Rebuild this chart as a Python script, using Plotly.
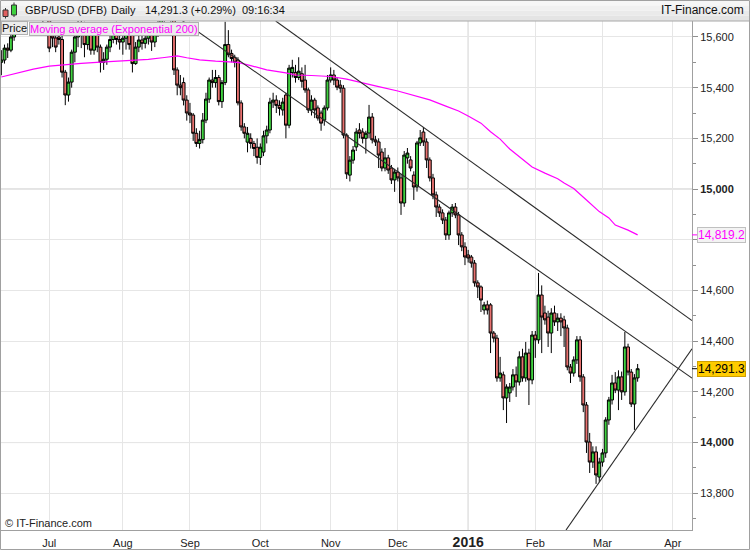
import pandas as pd
import plotly.graph_objects as go

# ---------------- data ----------------
# trading days shown (weekdays, market closed on 25 Dec and Good Friday)
TRADING_DAYS = pd.bdate_range("2015-06-10", "2016-04-08")
CLOSED_DAYS = pd.to_datetime(["2015-12-25", "2016-03-25"])
DATES = TRADING_DAYS[~TRADING_DAYS.isin(CLOSED_DAYS)]

OPEN = [
    15500, 15509, 15556, 15548, 15600, 15650, 15760, 15880, 15870, 15830,
    15720, 15760, 15740, 15750, 15740, 15700, 15610, 15596, 15600, 15590,
    15461, 15371, 15422, 15540, 15600, 15640, 15650, 15570, 15610, 15548,
    15620, 15560, 15500, 15512, 15560, 15590, 15620, 15590, 15580, 15595,
    15610, 15610, 15495, 15560, 15588, 15575, 15595, 15620, 15580, 15625,
    15655, 15680, 15700, 15710, 15700, 15470, 15410, 15420, 15351, 15300,
    15292, 15220, 15180, 15195, 15272, 15355, 15430, 15420, 15440, 15345,
    15420, 15570, 15535, 15520, 15509, 15340, 15245, 15185, 15200, 15180,
    15165, 15125, 15146, 15210, 15233, 15343, 15351, 15330, 15312, 15371,
    15252, 15460, 15460, 15440, 15455, 15430, 15391, 15312, 15351, 15320,
    15300, 15272, 15320, 15430, 15450, 15430, 15410, 15398, 15213, 15055,
    15114, 15166, 15233, 15225, 15200, 15221, 15284, 15194, 15186, 15146,
    15083, 15123, 15083, 15036, 15067, 15044, 14945, 15123, 15115, 15055,
    15008, 15182, 15225, 15186, 15115, 15044, 14977, 14929, 14906, 14878,
    14819, 14906, 14929, 14898, 14819, 14772, 14740, 14732, 14708, 14630,
    14614, 14523, 14543, 14543, 14432, 14412, 14255, 14267, 14176, 14196,
    14219, 14267, 14239, 14338, 14255, 14353, 14247, 14424, 14405, 14582,
    14511, 14495, 14432, 14511, 14476, 14491, 14484, 14452, 14298, 14274,
    14326, 14405, 14259, 14148, 14002, 13923, 13963, 13864, 13923, 13959,
    14089, 14168, 14235, 14207, 14259, 14200, 14377, 14278, 14152, 14255,
]
HIGH = [
    15548, 15570, 15575, 15620, 15680, 15790, 15930, 15900, 15890, 15840,
    15780, 15790, 15780, 15780, 15790, 15720, 15630, 15625, 15630, 15605,
    15470, 15440, 15550, 15620, 15670, 15690, 15660, 15640, 15630, 15640,
    15640, 15570, 15540, 15570, 15610, 15650, 15660, 15640, 15610, 15630,
    15620, 15640, 15580, 15610, 15610, 15615, 15640, 15640, 15640, 15680,
    15700, 15730, 15750, 15820, 15720, 15480, 15450, 15440, 15370, 15340,
    15300, 15240, 15230, 15300, 15380, 15440, 15470, 15470, 15450, 15430,
    15660, 15627, 15550, 15530, 15520, 15350, 15260, 15245, 15220, 15190,
    15200, 15180, 15230, 15250, 15360, 15380, 15370, 15350, 15360, 15380,
    15490, 15510, 15490, 15520, 15480, 15490, 15400, 15370, 15360, 15330,
    15310, 15330, 15450, 15480, 15470, 15440, 15430, 15410, 15220, 15130,
    15170, 15240, 15260, 15240, 15230, 15332, 15300, 15210, 15200, 15160,
    15162, 15135, 15095, 15080, 15085, 15060, 15150, 15162, 15130, 15070,
    15190, 15233, 15245, 15200, 15125, 15060, 14990, 14940, 14920, 14890,
    14915, 14941, 14945, 14910, 14830, 14790, 14760, 14740, 14720, 14640,
    14620, 14555, 14560, 14550, 14440, 14425, 14338, 14280, 14230, 14235,
    14290, 14300, 14360, 14370, 14397, 14370, 14440, 14440, 14669, 14620,
    14540, 14520, 14530, 14540, 14510, 14510, 14500, 14465, 14310, 14340,
    14420, 14420, 14270, 14160, 14038, 13985, 13985, 13940, 13975, 14100,
    14180, 14267, 14278, 14285, 14280, 14436, 14390, 14290, 14270, 14310,
]
LOW = [
    15449, 15495, 15517, 15540, 15585, 15640, 15740, 15830, 15800, 15690,
    15680, 15710, 15700, 15630, 15670, 15540, 15560, 15540, 15570, 15440,
    15331, 15345, 15400, 15500, 15560, 15556, 15520, 15550, 15530, 15530,
    15540, 15460, 15470, 15490, 15540, 15575, 15570, 15550, 15530, 15550,
    15550, 15460, 15490, 15540, 15550, 15555, 15570, 15545, 15560, 15600,
    15630, 15660, 15670, 15660, 15450, 15370, 15370, 15330, 15270, 15260,
    15190, 15166, 15160, 15180, 15260, 15340, 15400, 15400, 15330, 15320,
    15410, 15520, 15500, 15480, 15330, 15230, 15200, 15145, 15160, 15130,
    15100, 15095, 15130, 15180, 15220, 15320, 15300, 15290, 15290, 15200,
    15240, 15440, 15420, 15430, 15400, 15380, 15300, 15290, 15280, 15270,
    15230, 15250, 15310, 15420, 15410, 15390, 15380, 15200, 15040, 15030,
    15100, 15150, 15200, 15180, 15140, 15200, 15180, 15170, 15083, 15070,
    15070, 15060, 15020, 14989, 15030, 14898, 14930, 15100, 15070, 14957,
    14990, 15170, 15170, 15083, 15030, 14960, 14890, 14890, 14862, 14799,
    14800, 14890, 14885, 14779, 14755, 14700, 14710, 14690, 14615, 14570,
    14515, 14505, 14505, 14353, 14395, 14240, 14240, 14128, 14077, 14160,
    14205, 14180, 14225, 14240, 14240, 14148, 14230, 14334, 14390, 14353,
    14465, 14377, 14353, 14460, 14440, 14420, 14377, 14285, 14235, 14260,
    14310, 14240, 14120, 13959, 13880, 13900, 13837, 13845, 13905, 13940,
    14070, 14150, 14195, 14128, 14168, 14185, 14265, 14140, 14050, 14240,
]
CLOSE = [
    15509, 15556, 15548, 15600, 15650, 15760, 15880, 15870, 15830, 15720,
    15760, 15740, 15750, 15740, 15700, 15556, 15596, 15560, 15590, 15461,
    15371, 15422, 15540, 15600, 15640, 15650, 15570, 15610, 15548, 15620,
    15560, 15500, 15512, 15560, 15590, 15620, 15590, 15580, 15595, 15610,
    15570, 15495, 15560, 15588, 15575, 15595, 15620, 15580, 15625, 15655,
    15680, 15700, 15710, 15700, 15470, 15410, 15400, 15351, 15300, 15292,
    15220, 15180, 15195, 15272, 15355, 15430, 15420, 15440, 15345, 15420,
    15570, 15530, 15515, 15500, 15340, 15245, 15220, 15220, 15180, 15160,
    15125, 15165, 15210, 15233, 15343, 15351, 15330, 15318, 15343, 15252,
    15477, 15480, 15440, 15465, 15425, 15391, 15312, 15351, 15312, 15280,
    15260, 15320, 15430, 15450, 15430, 15402, 15398, 15213, 15060, 15114,
    15154, 15225, 15220, 15200, 15220, 15284, 15194, 15186, 15134, 15083,
    15123, 15075, 15036, 15067, 15044, 14945, 15134, 15142, 15083, 15008,
    15182, 15202, 15186, 15115, 15044, 14977, 14929, 14906, 14878, 14819,
    14906, 14929, 14898, 14819, 14772, 14732, 14728, 14708, 14630, 14614,
    14562, 14543, 14523, 14432, 14412, 14255, 14274, 14176, 14219, 14219,
    14267, 14239, 14338, 14255, 14353, 14247, 14424, 14405, 14582, 14495,
    14484, 14432, 14511, 14476, 14491, 14476, 14452, 14298, 14274, 14326,
    14405, 14259, 14148, 14002, 13923, 13963, 13872, 13923, 13959, 14089,
    14168, 14235, 14207, 14259, 14200, 14377, 14278, 14152, 14255, 14291.3,
]

# 200-day exponential moving average, read at sampled trading-day positions
EMA_DAY = [0, 5, 10, 15, 20, 25, 31, 36, 41, 46, 51, 55, 58, 62, 67, 71, 74, 78,
           83, 89, 92, 97, 103, 108, 113, 118, 124, 129, 134, 139, 143, 146, 150,
           153, 156, 159, 162, 166, 170, 174, 176, 179, 183, 187, 190, 192, 196, 199]
EMA_VAL = [15442, 15458, 15473, 15485, 15491, 15496, 15501, 15505, 15508, 15512,
           15519, 15525, 15518, 15510, 15505, 15501, 15500, 15487, 15470, 15458,
           15450, 15448, 15444, 15434, 15418, 15404, 15387, 15369, 15352, 15327,
           15308, 15288, 15260, 15226, 15197, 15158, 15126, 15087, 15063, 15041,
           15024, 15002, 14957, 14911, 14886, 14858, 14838, 14819.2]

# hand-drawn trend lines: (day0, price0, day1, price1)
TREND_LINES = [
    (85.8, 15663, 216.0, 14481),
    (56.3, 15667, 216.0, 14254),
    (176.6, 13655, 216.0, 14370),
]

Y_TICKS = [13800, 14000, 14200, 14400, 14600, 14800, 15000, 15200, 15400, 15600]
Y_MINOR = [13700, 13900, 14100, 14300, 14500, 14700, 14900, 15100, 15300, 15500]
BOLD_TICKS = [14000, 15000]
HIDDEN_TICKS = [14800]   # covered by the moving-average value label

LAST_PRICE = 14291.3
LAST_EMA = 14819.2
TITLE_PARTS = ["GBP/USD (DFB)", "Daily", "14,291.3 (+0.29%)", "09:16:34"]

# ---------------- figure ----------------
W, H = 750, 550
ML, MR, MT, MB = 1, 58, 21, 20
PW, PH = W - ML - MR, H - MT - MB


def PX(px):
    return (px - ML) / PW


def PY(py):
    return (H - MB - py) / PH


FONT = "Liberation Sans, Arial, sans-serif"
xpos = list(range(len(CLOSE)))

fig = go.Figure()
fig.add_trace(go.Candlestick(
    x=xpos, open=OPEN, high=HIGH, low=LOW, close=CLOSE,
    increasing=dict(line=dict(color="#000000", width=1), fillcolor="#3fd23f"),
    decreasing=dict(line=dict(color="#000000", width=1), fillcolor="#e8716f"),
    whiskerwidth=0, showlegend=False, hoverinfo="skip",
))
fig.add_trace(go.Scatter(
    x=EMA_DAY, y=EMA_VAL, mode="lines",
    line=dict(color="#ff00ff", width=1.2), showlegend=False, hoverinfo="skip",
))
for (x0, y0, x1, y1) in TREND_LINES:
    fig.add_trace(go.Scatter(
        x=[x0, x1], y=[y0, y1], mode="lines",
        line=dict(color="#2a2a2a", width=1.1), showlegend=False, hoverinfo="skip",
    ))

# month ticks
tickvals, ticktext = [], []
for p in range(1, len(DATES)):
    if DATES[p].month != DATES[p - 1].month:
        tickvals.append(p)
        if DATES[p].month == 1:
            ticktext.append("<span style='font-size:14px'><b>%d</b></span>" % DATES[p].year)
        else:
            ticktext.append(DATES[p].strftime("%b"))
year_pos = [v for v, t in zip(tickvals, ticktext) if "<b>" in t]

ytext = []
for v in Y_TICKS:
    s = "{:,}".format(v)
    if v in HIDDEN_TICKS:
        s = ""
    elif v in BOLD_TICKS:
        s = "<b>%s</b>" % s
    ytext.append(s)

shapes = []
# header band (light gradient)
band = ["#e4e4e4", "#eaeaea", "#f0f0f0", "#f6f6f6"]
for k, col in enumerate(band):
    shapes.append(dict(type="rect", xref="paper", yref="paper",
                       x0=PX(0), x1=PX(750), y0=PY(21 - k * 5.25), y1=PY(21 - (k + 1) * 5.25),
                       fillcolor=col, line=dict(width=0), layer="below"))
shapes.append(dict(type="line", xref="paper", yref="paper", x0=PX(0), x1=PX(750),
                   y0=PY(21), y1=PY(21), line=dict(color="#a8a8a8", width=1)))
# outer border
shapes.append(dict(type="rect", xref="paper", yref="paper", x0=PX(0.5), x1=PX(749.5),
                   y0=PY(549.5), y1=PY(0.5), line=dict(color="#a0a0a0", width=1)))
# darker major grid lines
for v in BOLD_TICKS:
    shapes.append(dict(type="line", xref="paper", yref="y", x0=0, x1=1, y0=v, y1=v,
                       line=dict(color="#c4c4c4", width=1), layer="below"))
for v in year_pos:
    shapes.append(dict(type="line", xref="x", yref="paper", x0=v, x1=v, y0=0, y1=1,
                       line=dict(color="#c4c4c4", width=1), layer="below"))
# header icon: red and green candles
shapes += [
    dict(type="line", xref="paper", yref="paper", x0=PX(5.5), x1=PX(5.5), y0=PY(18.5), y1=PY(8),
         line=dict(color="#333", width=1)),
    dict(type="rect", xref="paper", yref="paper", x0=PX(3), x1=PX(8), y0=PY(16.5), y1=PY(10),
         fillcolor="#e06060", line=dict(color="#333", width=1)),
    dict(type="line", xref="paper", yref="paper", x0=PX(14), x1=PX(14), y0=PY(17), y1=PY(2.5),
         line=dict(color="#333", width=1)),
    dict(type="rect", xref="paper", yref="paper", x0=PX(11.5), x1=PX(16.5), y0=PY(15), y1=PY(5),
         fillcolor="#3fd23f", line=dict(color="#333", width=1)),
]
# price-axis markers
shapes.append(dict(type="line", xref="paper", yref="y", x0=PX(692), x1=PX(698),
                   y0=LAST_EMA, y1=LAST_EMA, line=dict(color="#ff00ff", width=1)))
shapes.append(dict(type="line", xref="paper", yref="y", x0=PX(692), x1=PX(698),
                   y0=LAST_PRICE, y1=LAST_PRICE, line=dict(color="#000", width=1)))

ann = []
hx = [23, 109, 143, 240]
for x, t in zip(hx, TITLE_PARTS):
    ann.append(dict(text=t, xref="paper", yref="paper", x=PX(x), y=PY(10.5),
                    xanchor="left", yanchor="middle", showarrow=False,
                    font=dict(family=FONT, size=11, color="#111")))
ann.append(dict(text="IT-Finance.com", xref="paper", yref="paper", x=PX(746), y=PY(10.5),
                xanchor="right", yanchor="middle", showarrow=False,
                font=dict(family=FONT, size=12, color="#111")))
ann.append(dict(text="Price", xref="paper", yref="paper", x=PX(1), y=PY(21.5),
                xanchor="left", yanchor="top", showarrow=False, bgcolor="#ececec",
                bordercolor="#b0b0b0", borderwidth=1, borderpad=0,
                font=dict(family=FONT, size=11, color="#111")))
ann.append(dict(text="Moving average (Exponential 200)", xref="paper", yref="paper",
                x=PX(29), y=PY(21.5), xanchor="left", yanchor="top", showarrow=False,
                bgcolor="#ececec", bordercolor="#b0b0b0", borderwidth=1, borderpad=0,
                font=dict(family=FONT, size=11, color="#ff00ff")))
ann.append(dict(text="© IT-Finance.com", xref="paper", yref="paper", x=PX(3), y=PY(523),
                xanchor="left", yanchor="middle", showarrow=False,
                font=dict(family=FONT, size=11, color="#222")))
ann.append(dict(text="{:,.1f}".format(LAST_EMA), xref="paper", yref="y", x=PX(697), y=LAST_EMA,
                xanchor="left", yanchor="middle", showarrow=False, bgcolor="#f3f3f3",
                bordercolor="#c0c0c0", borderwidth=1, borderpad=0,
                font=dict(family=FONT, size=12, color="#ff00ff")))
ann.append(dict(text="{:,.1f}".format(LAST_PRICE), xref="paper", yref="y", x=PX(697), y=LAST_PRICE,
                xanchor="left", yanchor="middle", showarrow=False, bgcolor="#ffcc00",
                bordercolor="#d0a000", borderwidth=1, borderpad=0,
                font=dict(family=FONT, size=12, color="#000")))

fig.update_layout(
    width=W, height=H, margin=dict(l=ML, r=MR, t=MT, b=MB, pad=0),
    paper_bgcolor="white", plot_bgcolor="white",
    font=dict(family=FONT, size=11, color="#222"),
    showlegend=False, hovermode=False, boxgap=0.1, boxgroupgap=0,
    xaxis=dict(range=[-0.1, 216.0], tickvals=tickvals, ticktext=ticktext,
               showgrid=True, gridcolor="#e6e6e6", gridwidth=1, zeroline=False,
               showline=True, linecolor="#a0a0a0", linewidth=1,
               ticks="outside", ticklen=3, tickcolor="rgba(0,0,0,0)",
               tickfont=dict(family=FONT, size=11, color="#222"),
               rangeslider=dict(visible=False), fixedrange=True),
    yaxis=dict(side="right", range=[13655, 15663], tickvals=Y_TICKS, ticktext=ytext,
               showgrid=True, gridcolor="#e6e6e6", gridwidth=1, zeroline=False,
               showline=True, linecolor="#a0a0a0", linewidth=1,
               ticks="outside", ticklen=5, tickcolor="#909090",
               minor=dict(tickvals=Y_MINOR, ticks="outside", ticklen=3,
                          tickcolor="#909090", showgrid=False),
               tickfont=dict(family=FONT, size=11, color="#222"), fixedrange=True),
    shapes=shapes, annotations=ann,
)

fig.write_html("out.html", config={"displayModeBar": False, "staticPlot": True},
               post_script="document.body.style.margin='0';document.body.style.padding='0';")
